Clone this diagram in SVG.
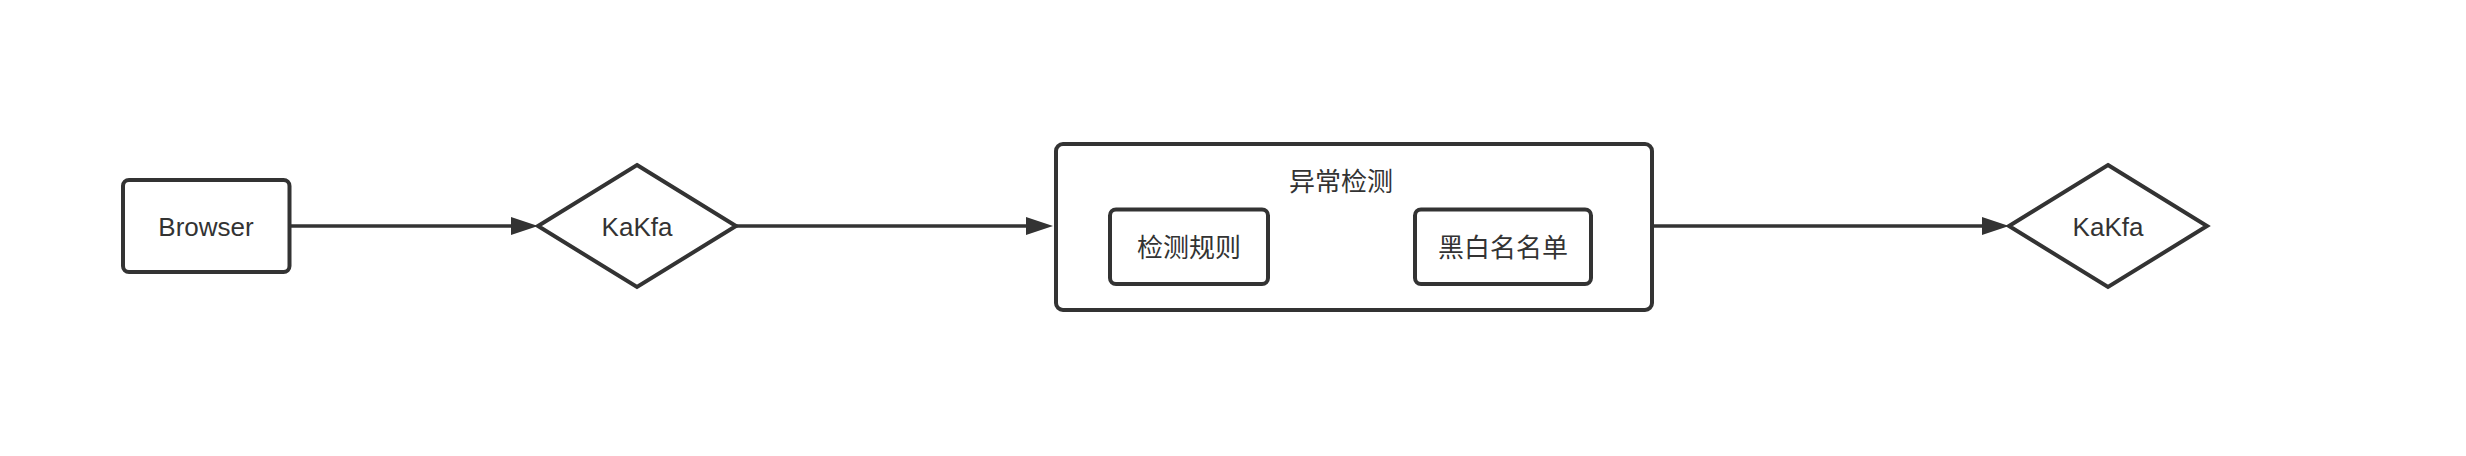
<svg xmlns="http://www.w3.org/2000/svg" width="2466" height="456" viewBox="0 0 2466 456">
<style>
.shape{fill:#ffffff;stroke:#333333;stroke-width:4;}
.conn{stroke:#333333;stroke-width:3.5;fill:none;}
.lbl{font-family:"Liberation Sans","Noto Sans CJK SC",sans-serif;font-size:26px;fill:#333333;text-anchor:middle;}
.cjk{font-family:"Noto Sans CJK SC",sans-serif;font-size:26px;fill:#333333;text-anchor:middle;}
</style>
<defs>
<marker id="arr" markerUnits="userSpaceOnUse" markerWidth="27" markerHeight="18" refX="21" refY="9" orient="auto">
<path d="M0,0 L27,9 L0,18 z" fill="#333333"/>
</marker>
</defs>
<rect width="2466" height="456" fill="#ffffff"/>
<g id="connectors">
<line class="conn" x1="290" y1="226" x2="532" y2="226" marker-end="url(#arr)"/>
<line class="conn" x1="736" y1="226" x2="1047" y2="226" marker-end="url(#arr)"/>
<line class="conn" x1="1652" y1="226" x2="2003" y2="226" marker-end="url(#arr)"/>
</g>
<g id="browser">
<rect class="shape" x="123" y="180" width="166.5" height="92" rx="6"/>
<text class="lbl" x="206" y="236">Browser</text>
</g>
<g id="kafka1">
<polygon class="shape" points="637,165 736,226 637,287 538,226"/>
<text class="lbl" x="637" y="236">KaKfa</text>
</g>
<g id="anomaly">
<rect class="shape" x="1056" y="144" width="596" height="166" rx="7"/>
<text class="cjk" x="1341" y="191">异常检测</text>
</g>
<g id="rules">
<rect class="shape" x="1110" y="209.5" width="158" height="74.5" rx="6"/>
<text class="cjk" x="1189" y="257">检测规则</text>
</g>
<g id="blackwhite">
<rect class="shape" x="1415" y="209.5" width="176" height="74.5" rx="6"/>
<text class="cjk" x="1503" y="257">黑白名名单</text>
</g>
<g id="kafka2">
<polygon class="shape" points="2108,165 2207,226 2108,287 2009,226"/>
<text class="lbl" x="2108" y="236">KaKfa</text>
</g>
</svg>
